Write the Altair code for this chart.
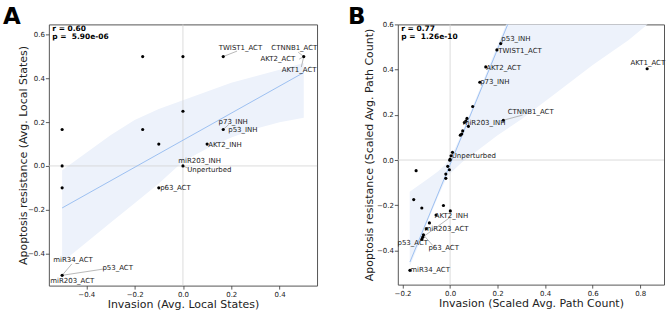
import altair as alt
import pandas as pd

FONT = "DejaVu Sans"
INK = "#222222"

# ---------------- Panel A: average local states ----------------
a_x = [-0.5, -0.5, -0.5, -0.5, -0.1667, 0.0, 0.1667, 0.5, 0.0, -0.1667, -0.1, 0.1667, 0.1, 0.0, -0.1]
a_y = [0.1667, 0.0, -0.1, -0.5, 0.5, 0.5, 0.5, 0.5, 0.25, 0.1667, 0.1, 0.1667, 0.1, 0.0, -0.1]

a_names = ["TWIST1_ACT", "CTNNB1_ACT", "AKT2_ACT", "AKT1_ACT", "p73_INH", "p53_INH", "AKT2_INH",
           "miR203_INH", "Unperturbed", "p63_ACT", "miR34_ACT", "p53_ACT", "miR203_ACT"]
a_name_x = [0.1667, 0.5, 0.5, 0.5, 0.1667, 0.1667, 0.1, 0.0, 0.0, -0.1, -0.5, -0.5, -0.5]
a_name_y = [0.5, 0.5, 0.5, 0.5, 0.1667, 0.1667, 0.1, 0.0, 0.0, -0.1, -0.5, -0.5, -0.5]

# regression fit and its confidence band
a_fit_x = [-0.5, 0.5]
a_fit_y = [-0.192, 0.427]
a_band_x = [-0.5, -0.4, -0.3, -0.2, -0.1, 0.0, 0.1, 0.2, 0.3, 0.4, 0.5]
a_band_lo = [-0.44, -0.35, -0.26, -0.17, -0.08, 0.02, 0.08, 0.13, 0.17, 0.20, 0.22]
a_band_hi = [-0.02, 0.06, 0.14, 0.21, 0.26, 0.30, 0.34, 0.38, 0.41, 0.44, 0.47]
a_stats = ["r = 0.60", "p =\u00a0\u00a05.90e-06"]

# label placement (text centres) and leader-line ends, panel A
a_lab_x = [0.238, 0.461, 0.393, 0.481, 0.208, 0.248, 0.174, 0.069, 0.109, -0.031, -0.455, -0.27, -0.458]
a_lab_y = [0.54, 0.54, 0.488, 0.438, 0.203, 0.164, 0.097, 0.021, -0.018, -0.103, -0.43, -0.466, -0.527]
a_lead = {"TWIST1_ACT": (0.224, 0.525), "CTNNB1_ACT": (0.477, 0.52), "AKT2_ACT": (0.481, 0.488),
          "AKT1_ACT": (0.49, 0.452), "p73_INH": (0.19, 0.19), "Unperturbed": (0.02, -0.01),
          "miR34_ACT": (-0.46, -0.448), "p53_ACT": (-0.327, -0.471)}

# ---------------- Panel B: scaled average path count ----------------
b_x = [0.213, 0.197, 0.150, 0.125, 0.095, 0.224, 0.071, 0.066, 0.060, 0.077, 0.053, 0.043, 0.049,
       0.829, 0.010, 0.004, 0.0, -0.001, -0.010, -0.003, -0.018, -0.018, -0.143, -0.153, -0.119,
       -0.028, -0.059, 0.001, -0.087, -0.100, -0.112, -0.115, -0.119, -0.169]
b_y = [0.515, 0.487, 0.412, 0.344, 0.237, 0.176, 0.184, 0.172, 0.166, 0.149, 0.129, 0.110, 0.115,
       0.404, 0.034, 0.019, 0.004, -0.001, -0.028, -0.043, -0.062, -0.081, -0.047, -0.175, -0.212,
       -0.201, -0.243, -0.225, -0.278, -0.304, -0.331, -0.341, -0.351, -0.488]

b_names = ["p53_INH", "TWIST1_ACT", "AKT2_ACT", "p73_INH", "CTNNB1_ACT", "miR203_INH", "AKT1_ACT",
           "Unperturbed", "AKT2_INH", "miR203_ACT", "p53_ACT", "p63_ACT", "miR34_ACT"]
b_name_x = [0.213, 0.197, 0.150, 0.125, 0.224, 0.071, 0.829, 0.010, -0.115, -0.100, -0.119, -0.112, -0.169]
b_name_y = [0.515, 0.487, 0.412, 0.344, 0.176, 0.184, 0.404, 0.034, -0.341, -0.304, -0.351, -0.331, -0.488]

b_fit_x = [-0.169, 0.83]
b_fit_y = [-0.451, 2.10]
b_band_x = [-0.17, -0.13, -0.09, -0.05, -0.02, 0.0, 0.02, 0.05, 0.1, 0.15, 0.2, 0.3, 0.45, 0.6, 0.75, 0.83]
b_band_lo = [-0.47, -0.37, -0.26, -0.16, -0.09, -0.06, -0.04, -0.01, 0.03, 0.07, 0.11, 0.18, 0.30, 0.42, 0.53, 0.60]
b_band_hi = [-0.14, -0.11, -0.08, -0.05, -0.02, 0.01, 0.05, 0.12, 0.25, 0.38, 0.51, 0.76, 1.1, 1.5, 1.9, 2.1]
b_stats = ["r = 0.77", "p =\u00a0\u00a01.26e-10"]

b_lab_x = [0.277, 0.294, 0.225, 0.188, 0.339, 0.143, 0.832, 0.100, 0.006, -0.015, -0.157, -0.027, -0.084]
b_lab_y = [0.534, 0.484, 0.409, 0.343, 0.213, 0.162, 0.427, 0.019, -0.246, -0.304, -0.367, -0.387, -0.488]
b_lead = {"CTNNB1_ACT": (0.305, 0.199), "AKT2_INH": (-0.003, -0.256), "p63_ACT": (-0.073, -0.378)}


def panel(letter, px, py, names, nx, ny, lx, ly, lead, fit_x, fit_y, band_x, band_lo, band_hi,
          stats, xdom, ydom, xticks, yticks, xtitle, ytitle, w, h, y_extent, letter_dx):
    xs = alt.Scale(domain=xdom, nice=False, zero=False)
    ys = alt.Scale(domain=ydom, nice=False, zero=False)
    xaxis = alt.Axis(title=xtitle, values=xticks, format=".1f", grid=False, domain=False,
                     tickSize=3.5, tickWidth=0.8, tickColor="#333", labelFont=FONT,
                     labelFontSize=7, labelColor=INK, labelPadding=1.5, titleFont=FONT,
                     titleFontSize=11, titleFontWeight="normal", titleColor=INK,
                     titlePadding=1, minExtent=12, maxExtent=12)
    yaxis = alt.Axis(title=ytitle, values=yticks, format=".1f", grid=False, domain=False,
                     tickSize=3.5, tickWidth=0.8, tickColor="#333", labelFont=FONT,
                     labelFontSize=7, labelColor=INK, labelPadding=1, titleFont=FONT,
                     titleFontSize=11, titleFontWeight="normal", titleColor=INK,
                     titlePadding=3, minExtent=y_extent, maxExtent=y_extent)

    def X(f):
        return alt.X(f, type="quantitative", scale=xs, axis=xaxis)

    def Y(f):
        return alt.Y(f, type="quantitative", scale=ys, axis=yaxis)

    band = alt.Chart(pd.DataFrame({"x": band_x, "lo": band_lo, "hi": band_hi})).mark_area(
        clip=True, color="#edf2fb", opacity=1).encode(x=X("x"), y=Y("lo"), y2="hi")
    zero = pd.DataFrame({"v": [0.0]})
    vline = alt.Chart(zero).mark_rule(color="#d3d3d3", strokeWidth=0.8).encode(x=X("v"))
    hline = alt.Chart(zero).mark_rule(color="#d3d3d3", strokeWidth=0.8).encode(y=Y("v"))
    fit = alt.Chart(pd.DataFrame({"x": fit_x, "y": fit_y})).mark_line(
        clip=True, color="#93baef", strokeWidth=0.9).encode(x=X("x"), y=Y("y"))

    lead_rows = []
    for n, x0, y0 in zip(names, nx, ny):
        if n in lead:
            lead_rows.append({"x0": x0, "y0": y0, "x1": lead[n][0], "y1": lead[n][1]})
    leaders = alt.Chart(pd.DataFrame(lead_rows)).mark_rule(
        color="#9a9a9a", strokeWidth=0.7).encode(x=X("x0"), y=Y("y0"), x2="x1", y2="y1")

    pts = alt.Chart(pd.DataFrame({"x": px, "y": py})).mark_circle(
        color="black", size=10, opacity=1).encode(x=X("x"), y=Y("y"))
    labels = alt.Chart(pd.DataFrame({"x": lx, "y": ly, "t": names})).mark_text(
        font=FONT, fontSize=7, color=INK, align="center", baseline="middle").encode(
        x=X("x"), y=Y("y"), text="t:N")

    stat_df = pd.DataFrame({"t": stats, "row": [4.5, 13.0]})
    stat = alt.Chart(stat_df).mark_text(
        font=FONT, fontSize=7.5, fontWeight="bold", color="black", align="left",
        baseline="middle", dx=3.5).encode(x=alt.value(0), y=alt.Y("row:Q", scale=None), text="t:N")

    tag = alt.Chart(pd.DataFrame({"t": [letter]})).mark_text(
        font=FONT, fontSize=23, fontWeight="bold", color="black", align="left",
        baseline="alphabetic").encode(x=alt.value(letter_dx), y=alt.value(0), text="t:N")

    return alt.layer(band, vline, hline, fit, leaders, pts, labels, stat, tag).properties(
        width=w, height=h)


chart_a = panel("A", a_x, a_y, a_names, a_name_x, a_name_y, a_lab_x, a_lab_y, a_lead,
                a_fit_x, a_fit_y, a_band_x, a_band_lo, a_band_hi, a_stats,
                [-0.555, 0.555], [-0.547, 0.647], [-0.4, -0.2, 0.0, 0.2, 0.4],
                [-0.4, -0.2, 0.0, 0.2, 0.4, 0.6],
                "Invasion (Avg. Local States)", "Apoptosis resistance (Avg. Local States)",
                269, 262, 17, -46)

chart_b = panel("B", b_x, b_y, b_names, b_name_x, b_name_y, b_lab_x, b_lab_y, b_lead,
                b_fit_x, b_fit_y, b_band_x, b_band_lo, b_band_hi, b_stats,
                [-0.22, 0.9], [-0.551, 0.6], [-0.2, 0.0, 0.2, 0.4, 0.6, 0.8],
                [-0.4, -0.2, 0.0, 0.2, 0.4, 0.6],
                "Invasion (Scaled Avg. Path Count)", "Apoptosis resistance (Scaled Avg. Path Count)",
                267, 261, 20, -50)

chart = alt.hconcat(chart_a, chart_b, spacing=29).properties(
    padding={"left": 2, "top": 5, "right": 0, "bottom": 0}
).configure_view(stroke="#555555", strokeWidth=1)

chart.save("out.html", embed_options={"renderer": "svg", "actions": False})
